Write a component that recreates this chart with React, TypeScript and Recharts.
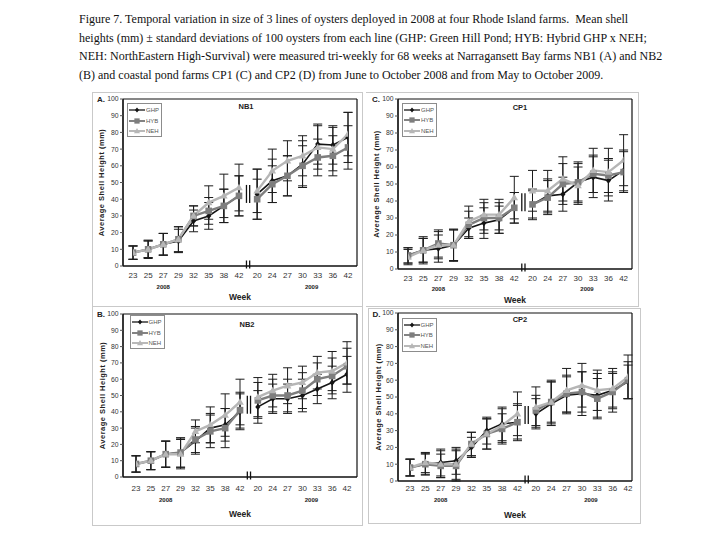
import React from 'react';
import { LineChart, Line, XAxis, YAxis, ErrorBar, ReferenceDot, CartesianGrid } from 'recharts';

// x axis: 2008 season weeks, then 2009 season weeks
const weeks2008 = [23, 25, 27, 29, 32, 35, 38, 42];
const weeks2009 = [20, 24, 27, 30, 33, 36, 42];
const yearLabels = ['2008', '2009'];
const lineNames = ['GHP', 'HYB', 'NEH'];
const yTicks = [0, 10, 20, 30, 40, 50, 60, 70, 80, 90, 100];

// A. NB1 - mean shell height (mm) and SD
const nb1Ghp = [8, 10, 13, 15, 27, 30, 36, 42, 43, 51, 54, 61, 73, 72.5, 77];
const nb1Hyb = [8, 10, 13, 16, 30, 33, 36, 42, 40, 49, 54, 60, 65, 66, 71];
const nb1Neh = [8, 10, 13, 16, 30, 38, 42, 47, 45, 57, 63, 66, 71, 70, 79];
const nb1GhpSd = [4, 5.5, 6.5, 7, 6.5, 8, 10, 12, 15, 13, 12, 14, 12, 11.5, 15];
const nb1HybSd = [4, 5, 6.5, 7.5, 6, 8, 10, 12, 12, 11, 12, 12, 11, 12, 13];
const nb1NehSd = [4, 5, 6.5, 7.5, 6, 10, 13, 14, 13, 13, 12, 12, 13, 13, 13];

// B. NB2
const nb2Ghp = [8, 10, 14, 15, 22, 30, 32, 40, 43, 48, 48, 50, 54, 58, 63];
const nb2Hyb = [8, 10, 14, 15, 23, 28, 30, 41, 47, 50, 50, 53, 60, 62, 68];
const nb2Neh = [8, 10, 14, 14, 28, 32, 38, 46, 49, 53, 56, 58, 64, 65, 70];
const nb2GhpSd = [5, 5.5, 8, 9, 8, 9, 10, 11, 10, 9, 9, 10, 9, 10, 11];
const nb2HybSd = [5, 5.5, 8, 9, 8, 10, 12, 11, 11, 10, 10, 11, 10, 11, 11];
const nb2NehSd = [5, 5.5, 8, 9, 7, 11, 13, 14, 12, 10, 11, 10, 10, 12, 13];

// C. CP1
const cp1Ghp = [8, 11, 12, 14, 24, 27, 29, 36, 38, 43, 44, 51, 54, 52, 58];
const cp1Hyb = [8, 11, 15, 14, 26, 30, 30, 36, 38, 42, 50, 51, 56, 55, 57];
const cp1Neh = [7, 11, 14, 14, 28, 32, 32, 42, 46, 46, 53, 49, 58, 57, 64];
const cp1GhpSd = [4.5, 8, 8, 9.5, 6, 9, 8, 9, 8, 10, 10, 12, 12, 12, 12];
const cp1HybSd = [4.5, 7, 8, 9, 8, 9, 9, 9, 9, 10, 12, 11, 11, 10, 12];
const cp1NehSd = [4.5, 7, 8, 9, 9, 9, 9, 12.5, 12, 12, 13, 11, 13, 14, 15];

// D. CP2
const cp2Ghp = [8, 10, 11, 12, 20, 30, 34, 35, 40, 46, 51, 52, 51, 54, 59];
const cp2Hyb = [8, 10, 9, 9, 22, 28, 31, 35, 42, 47, 52, 53, 49, 53, 60];
const cp2Neh = [8, 11, 10, 10, 22, 28, 33, 40, 44, 47, 54, 57, 54, 55, 62];
const cp2GhpSd = [5, 6, 8, 8, 6, 8, 10, 10, 9, 13, 11, 13, 13, 10, 10];
const cp2HybSd = [5, 6.5, 7, 9, 7, 9, 9, 11, 9, 12, 11, 12, 12, 12, 11];
const cp2NehSd = [5, 6, 8, 9, 7, 9, 10, 13, 12, 13, 13, 13, 12, 12, 13];

const captionLines = [
  'Figure 7. Temporal variation in size of 3 lines of oysters deployed in 2008 at four Rhode Island farms.  Mean shell',
  'heights (mm) \u00b1 standard deviations of 100 oysters from each line (GHP: Green Hill Pond; HYB: Hybrid GHP x NEH;',
  'NEH: NorthEastern High-Survival) were measured tri-weekly for 68 weeks at Narragansett Bay farms NB1 (A) and NB2',
  '(B) and coastal pond farms CP1 (C) and CP2 (D) from June to October 2008 and from May to October 2009.',
];

const FONT = '"Liberation Sans", Arial, sans-serif';

// x scale: 2009 weeks start a bit after the 2008 ones (axis break in between)
const GAP = 8.2;
const N08 = weeks2008.length;
const seasonPos = [...weeks2008.map((_, i) => i), ...weeks2009.map((_, j) => GAP + j)];
const weekLabels = [...weeks2008, ...weeks2009];
// year label sits under week 27 of 2008 and just right of week 30 of 2009
const yearTickIdx = [2, N08 + 3];
const yearShift = [0, 9];
const breakPos = (N08 - 1 + GAP) / 2;
const xDomain = [0, GAP + weeks2009.length - 1];

const lineStyle: Record<string, { color: string; width: number; shape: string }> = {
  GHP: { color: '#151515', width: 1.6, shape: 'diamond' },
  HYB: { color: '#7e7e7e', width: 2.4, shape: 'square' },
  NEH: { color: '#b6b6b6', width: 2.4, shape: 'triangle' },
};

function Marker({ shape, cx, cy, color, k = 1 }: any) {
  if (cx == null || cy == null) return null;
  if (shape === 'diamond') {
    const w = 2.6 * k, h = 3.2 * k;
    return <polygon points={`${cx},${cy - h} ${cx + w},${cy} ${cx},${cy + h} ${cx - w},${cy}`} fill={color} />;
  }
  if (shape === 'square') {
    const s = 3.3 * k;
    return <rect x={cx - s} y={cy - s} width={2 * s} height={2 * s} fill={color} />;
  }
  const t = 3.8 * k;
  return <polygon points={`${cx},${cy - t} ${cx + t},${cy + t * 0.7} ${cx - t},${cy + t * 0.7}`} fill={color} />;
}

function BreakMark({ cx, cy, h }: any) {
  if (cx == null || cy == null) return null;
  return (
    <g stroke="#111" strokeWidth={1.3}>
      <line x1={cx - 1.6} x2={cx - 1.6} y1={cy - h} y2={cy + h} />
      <line x1={cx + 1.6} x2={cx + 1.6} y1={cy - h} y2={cy + h} />
    </g>
  );
}

// week label, plus the season year under two of the ticks
function WeekTick({ x, y, payload, tickD, yearD }: any) {
  const i = seasonPos.findIndex((v) => Math.abs(v - payload.value) < 0.01);
  if (i < 0) return null;
  const yi = yearTickIdx.indexOf(i);
  return (
    <g fontFamily={FONT}>
      <text x={x} y={y + tickD} dy="0.36em" textAnchor="middle" fontSize={8} fill="#333">
        {weekLabels[i]}
      </text>
      {yi >= 0 && (
        <text x={x + yearShift[yi]} y={y + yearD} dy="0.36em" textAnchor="middle" fontSize={6} fontWeight="bold" fill="#222">
          {yearLabels[yi]}
        </text>
      )}
    </g>
  );
}

function segments(mean: number[], sd: number[]) {
  const a = weeks2008.map((_, i) => ({ x: seasonPos[i], y: mean[i], e: sd[i] }));
  const b = weeks2009.map((_, j) => ({ x: seasonPos[N08 + j], y: mean[N08 + j], e: sd[N08 + j] }));
  return [a, b];
}

function LegendBox({ left, top }: { left: number; top: number }) {
  return (
    <div
      style={{
        position: 'absolute', left, top, width: 35, height: 34, boxSizing: 'border-box',
        border: '1px solid #8c8c8c', background: '#fff', paddingTop: 1,
      }}
    >
      {lineNames.map((name) => {
        const st = lineStyle[name];
        return (
          <div key={name} style={{ display: 'flex', alignItems: 'center', height: 10.5 }}>
            <svg width={18} height={8} style={{ display: 'block' }}>
              <line x1={1} x2={17} y1={4} y2={4} stroke={st.color} strokeWidth={st.width * 0.8} />
              <Marker shape={st.shape} cx={9} cy={4} color={st.color} k={0.8} />
            </svg>
            <span style={{ fontSize: 6, color: '#555', lineHeight: '8px' }}>{name}</span>
          </div>
        );
      })}
    </div>
  );
}

const panels = [
  {
    letter: 'A.', title: 'NB1', means: [nb1Ghp, nb1Hyb, nb1Neh], sds: [nb1GhpSd, nb1HybSd, nb1NehSd],
    x: 92, y: 92, w: 271, h: 215, yw: 31, top: 7, right: 6, bottom: 41, padL: 10, padR: 9,
    tickD: 9, yearD: 21, weekD: 31, yTitleX: 9.7, letterAt: [9, 8], titleAt: [154, 14.7], legendAt: [4, 4], noLeft: false,
  },
  {
    letter: 'B.', title: 'NB2', means: [nb2Ghp, nb2Hyb, nb2Neh], sds: [nb2GhpSd, nb2HybSd, nb2NehSd],
    x: 92, y: 306, w: 271, h: 220, yw: 31, top: 8, right: 6, bottom: 49, padL: 13, padR: 10,
    tickD: 11, yearD: 23, weekD: 37, yTitleX: 10.3, letterAt: [9, 9], titleAt: [155, 19], legendAt: [6.5, 1], noLeft: false,
  },
  {
    letter: 'C.', title: 'CP1', means: [cp1Ghp, cp1Hyb, cp1Neh], sds: [cp1GhpSd, cp1HybSd, cp1NehSd],
    x: 366, y: 92, w: 273, h: 215, yw: 32, top: 7, right: 7, bottom: 38, padL: 10, padR: 8.4,
    tickD: 9, yearD: 20, weekD: 31, yTitleX: 10.7, letterAt: [10, 8], titleAt: [154, 16], legendAt: [4, 3.5], noLeft: true,
  },
  {
    letter: 'D.', title: 'CP2', means: [cp2Ghp, cp2Hyb, cp2Neh], sds: [cp2GhpSd, cp2HybSd, cp2NehSd],
    x: 368, y: 308, w: 273, h: 216, yw: 30, top: 5, right: 9, bottom: 43, padL: 12, padR: 4,
    tickD: 7.6, yearD: 19, weekD: 33.6, yTitleX: 10.3, letterAt: [8.5, 7], titleAt: [152, 12], legendAt: [3.5, 4.5], noLeft: false,
  },
];

type PanelSpec = (typeof panels)[number];

function Panel({ p }: { p: PanelSpec }) {
  const weekH = p.weekD + 3;
  const segs = p.means.map((m, s) => segments(m, p.sds[s]));
  const joinVals = p.means.flatMap((m) => [m[N08 - 1], m[N08]]);
  const breakY = joinVals.reduce((a, b) => a + b, 0) / joinVals.length;
  const axisLine = { stroke: '#111', strokeWidth: 1.2 };

  return (
    <div style={{ position: 'absolute', left: p.x, top: p.y, width: p.w, height: p.h, fontFamily: FONT }}>
      <div
        style={{
          position: 'absolute', inset: 0, boxSizing: 'border-box', borderStyle: 'solid', borderColor: '#c9c9c9',
          borderWidth: p.noLeft ? '1px 1px 1px 0' : 1,
        }}
      />
      <LineChart
        width={p.w}
        height={p.h}
        margin={{ top: p.top, right: p.right, bottom: p.bottom - weekH, left: 0 }}
        style={{ position: 'absolute', left: 0, top: 0 }}
      >
        {/* plot frame */}
        <CartesianGrid
          stroke="#111"
          strokeWidth={1.2}
          horizontalCoordinatesGenerator={(g: any) => (g && g.offset ? [g.offset.top, g.offset.top + g.offset.height] : [])}
          verticalCoordinatesGenerator={(g: any) => (g && g.offset ? [g.offset.left, g.offset.left + g.offset.width] : [])}
        />
        <XAxis
          type="number" dataKey="x" domain={xDomain} ticks={seasonPos} interval={0} allowDataOverflow
          padding={{ left: p.padL, right: p.padR }} height={weekH} axisLine={axisLine} tickLine={false}
          tickSize={0} tickMargin={0}
          tick={(t: any) => <WeekTick key={`t-${t.index}`} {...t} tickD={p.tickD} yearD={p.yearD} />}
          label={{ value: 'Week', position: 'insideBottom', offset: 0, style: { fontSize: 8.5, fontWeight: 'bold', fill: '#222', fontFamily: FONT } }}
        />
        <YAxis
          type="number" domain={[0, 100]} ticks={yTicks} interval={0} allowDataOverflow width={p.yw}
          tickSize={3} tickMargin={1.5} axisLine={axisLine} tickLine={{ stroke: '#555' }}
          tick={{ fontSize: 6.8, fill: '#333', fontFamily: FONT }}
          label={{
            value: 'Average Shell Height (mm)', angle: -90, position: 'insideLeft', offset: p.yTitleX,
            style: { textAnchor: 'middle', fontSize: 7.5, fontWeight: 'bold', letterSpacing: 0.5, fill: '#222', fontFamily: FONT },
          }}
        />
        {lineNames.map((name, s) =>
          segs[s].map((data, k) => {
            const st = lineStyle[name];
            return (
              <Line
                key={`${name}-${k}`}
                data={data}
                dataKey="y"
                name={name}
                stroke={st.color}
                strokeWidth={st.width}
                dot={(d: any) => <Marker key={`${name}-${k}-${d.index}`} shape={st.shape} cx={d.cx} cy={d.cy} color={st.color} />}
                activeDot={false}
                isAnimationActive={false}
              >
                <ErrorBar dataKey="e" direction="y" width={4.5} stroke="#1c1c1c" strokeWidth={1} isAnimationActive={false} />
              </Line>
            );
          })
        )}
        <ReferenceDot x={breakPos} y={breakY} shape={(d: any) => <BreakMark cx={d.cx} cy={d.cy} h={9} />} />
        <ReferenceDot x={breakPos} y={0} ifOverflow="visible" shape={(d: any) => <BreakMark cx={d.cx} cy={d.cy - 1.5} h={4} />} />
      </LineChart>
      <LegendBox left={p.yw + p.legendAt[0]} top={p.top + p.legendAt[1]} />
      <div
        style={{
          position: 'absolute', left: p.letterAt[0], top: p.letterAt[1], transform: 'translate(-50%, -50%)',
          fontSize: 8, fontWeight: 'bold', color: '#222', lineHeight: 1, whiteSpace: 'nowrap',
        }}
      >
        {p.letter}
      </div>
      <div
        style={{
          position: 'absolute', left: p.titleAt[0], top: p.titleAt[1], transform: 'translate(-50%, -50%)',
          fontSize: 7.5, fontWeight: 'bold', color: '#222', lineHeight: 1, whiteSpace: 'nowrap',
        }}
      >
        {p.title}
      </div>
    </div>
  );
}

export default function App() {
  return (
    <div style={{ position: 'absolute', left: 0, top: 0, width: 720, height: 540, background: '#fff', overflow: 'hidden' }}>
      <div
        style={{
          position: 'absolute', left: 79, top: 10, fontFamily: '"Liberation Serif", "Times New Roman", serif',
          fontSize: 12, lineHeight: '18.5px', color: '#111', whiteSpace: 'pre',
        }}
      >
        {captionLines.map((t, i) => (
          <div key={i}>{t}</div>
        ))}
      </div>
      {panels.map((p) => (
        <Panel key={p.title} p={p} />
      ))}
    </div>
  );
}
